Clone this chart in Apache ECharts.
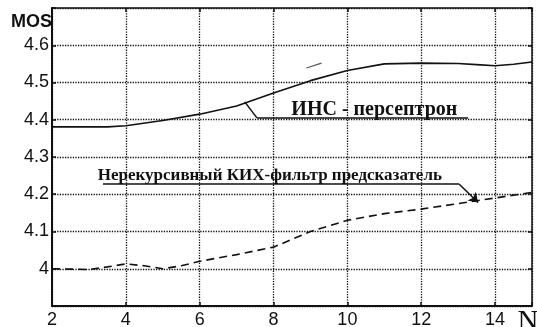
<!DOCTYPE html>
<html><head><meta charset="utf-8">
<script src="https://cdn.jsdelivr.net/npm/echarts@6/dist/echarts.min.js"></script>
<style>html,body{margin:0;padding:0;background:#fff}#c{width:537px;height:327px}</style>
</head><body><div id="c"></div>
<script>
const annX = [2, 3, 3.5, 4, 5, 6, 7, 8, 9, 10, 11, 12, 13, 13.5, 14, 14.5, 15];
const annY = [4.381, 4.381, 4.381, 4.384, 4.398, 4.415, 4.437, 4.472, 4.505, 4.532, 4.550, 4.552, 4.551, 4.548, 4.545, 4.549, 4.555];
const firX = [2, 2.5, 3, 3.5, 4, 4.5, 5, 5.5, 6, 7, 8, 9, 10, 11, 12, 13, 14, 15];
const firY = [4.0, 3.999, 3.998, 4.005, 4.013, 4.008, 4.0, 4.008, 4.02, 4.038, 4.058, 4.1, 4.13, 4.148, 4.16, 4.175, 4.19, 4.205];
const xTicks = [2, 4, 6, 8, 10, 12, 14];
const yTicks = [4.0, 4.1, 4.2, 4.3, 4.4, 4.5, 4.6];
const label1 = 'ИНС - персептрон';
const label2 = 'Нерекурсивный КИХ-фильтр предсказатель';
const label1Pos = [10.73, 4.427];
const label2Pos = [7.9, 4.251];
const leader1 = [[7.22, 4.448], [7.55, 4.405], [13.27, 4.405]];
const leader2 = [[3.38, 4.227], [13.03, 4.227], [13.54, 4.178]];
const stray = [[8.89, 4.539], [9.30, 4.552]];

const chart = echarts.init(document.getElementById('c'));
const black = '#111';
const gridDash = {color: black, width: 1.3, type: 'dotted', opacity: 1};
const txt = {fontFamily: 'Liberation Serif', fontWeight: 'bold', color: black};
function seg(a, b, extra) { return [Object.assign({coord: a}, extra || {}), {coord: b}]; }
chart.setOption({
  animation: false,
  grid: {left: 52, right: 5, top: 8, bottom: 21, show: false, containLabel: false, outerBoundsMode: 'none'},
  xAxis: [{
    type: 'value', min: 2, max: 15, interval: 2, position: 'bottom',
    axisLine: {show: true, lineStyle: {color: black, width: 2}},
    axisTick: {show: true, inside: true, length: 4, lineStyle: {color: black, width: 1.5}},
    axisLabel: {color: black, fontFamily: 'Liberation Sans', fontSize: 18, margin: 5,
      formatter: v => xTicks.includes(v) ? String(v) : ''},
    splitLine: {show: true, lineStyle: gridDash},
    name: 'N', nameLocation: 'end', nameGap: -4,
    nameTextStyle: {fontFamily: 'Liberation Serif', fontSize: 29, color: black, align: 'center', verticalAlign: 'top', padding: [2, 0, 0, 0]}
  }, {
    type: 'value', min: 2, max: 15, interval: 2, position: 'top',
    axisLine: {show: true, lineStyle: {color: black, width: 1.5}},
    axisTick: {show: true, inside: true, length: 4, lineStyle: {color: black, width: 1.5}},
    axisLabel: {show: false}, splitLine: {show: false}
  }],
  yAxis: [{
    type: 'value', min: 3.9, max: 4.7, interval: 0.1,
    axisLine: {show: true, lineStyle: {color: black, width: 2}},
    axisTick: {show: true, inside: true, length: 4, lineStyle: {color: black, width: 1.5}},
    axisLabel: {color: black, fontFamily: 'Liberation Sans', fontSize: 18, margin: 3,
      formatter: v => { const r = Math.round(v * 10) / 10; return yTicks.some(t => Math.abs(t - r) < 1e-6) ? String(r) : ''; }},
    splitLine: {show: true, lineStyle: gridDash},
    name: 'MOS', nameLocation: 'end', nameGap: -14,
    nameTextStyle: {fontFamily: 'Liberation Sans', fontWeight: 'bold', fontSize: 18, color: black, align: 'right', verticalAlign: 'middle'}
  }, {
    type: 'value', min: 3.9, max: 4.7, interval: 0.1, position: 'right',
    axisLine: {show: true, lineStyle: {color: black, width: 1.5}},
    axisTick: {show: true, inside: true, length: 4, lineStyle: {color: black, width: 1.5}},
    axisLabel: {show: false}, splitLine: {show: false}
  }],
  series: [{
    type: 'line', data: annX.map((x, i) => [x, annY[i]]), symbol: 'none',
    lineStyle: {color: black, width: 1.6}, z: 5,
    markLine: {silent: true, symbol: ['none', 'none'], label: {show: false},
      lineStyle: {color: black, width: 1.5, type: 'solid'},
      data: [seg(leader1[0], leader1[1]), seg(leader1[1], leader1[2]), seg(stray[0], stray[1], {lineStyle: {width: 1.2, color: '#555'}})]},
    markPoint: {silent: true, symbol: 'circle', symbolSize: 0,
      label: Object.assign({show: true, position: 'inside', formatter: label1, fontSize: 20}, txt),
      data: [{coord: label1Pos}]}
  }, {
    type: 'line', data: firX.map((x, i) => [x, firY[i]]), symbol: 'none',
    lineStyle: {color: black, width: 1.6, type: [8, 5]}, z: 5,
    markLine: {silent: true, symbol: ['none', 'none'], label: {show: false},
      lineStyle: {color: black, width: 1.5, type: 'solid'},
      data: [seg(leader2[0], leader2[1]), [{coord: leader2[1], symbol: 'none'}, {coord: leader2[2], symbol: 'arrow', symbolSize: 9}]]},
    markPoint: {silent: true, symbol: 'circle', symbolSize: 0,
      label: Object.assign({show: true, position: 'inside', formatter: label2, fontSize: 17}, txt),
      data: [{coord: label2Pos}]}
  }]
});
</script></body></html>
